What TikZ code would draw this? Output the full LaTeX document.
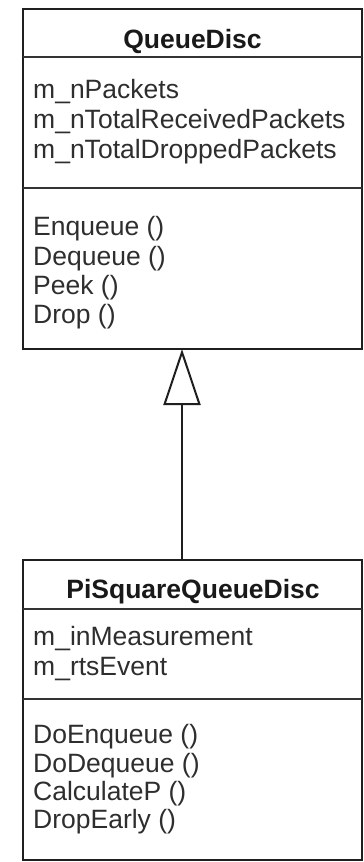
\documentclass[tikz,border=0pt]{standalone}
\usepackage{fontspec}
\setmainfont{Liberation Sans}
\usetikzlibrary{arrows.meta}
\begin{document}
\begin{tikzpicture}[x=1pt,y=-1pt,
  frame/.style={draw=black!88,line width=2pt},
  divider/.style={draw=black!80,line width=1.6pt},
  classbox/.style={frame,fill=white,inner sep=0pt,outer sep=0pt},
  title/.style={font=\fontsize{26.5}{30}\selectfont\bfseries,text=black!90,anchor=base,inner sep=0pt},
  member/.style={font=\fontsize{26.5}{30}\selectfont,text=black!82,anchor=base west,inner sep=0pt}]
\useasboundingbox[fill=white] (0,0) rectangle (364,862);

% base class box
\node[classbox,minimum width=339pt,minimum height=340pt] (base) at (192.5,179) {};
\draw[divider] (base.west |- 0,57) -- (base.east |- 0,57);
\draw[divider] (base.west |- 0,188) -- (base.east |- 0,188);
\node[title] (basetitle) at (192.5,48) {QueueDisc};
\foreach \t [count=\i] in {m\_nPackets,m\_nTotalReceivedPackets,m\_nTotalDroppedPackets}
  \node[member] (baseattr\i) at (33,68+30*\i) {\t};
\foreach \t [count=\i] in {Enqueue (),Dequeue (),Peek (),Drop ()}
  \node[member] (basemeth\i) at (33,206.5+29.3*\i) {\t};

% derived class box
\node[classbox,minimum width=339pt,minimum height=300pt] (derived) at (192.5,710) {};
\draw[divider] (derived.west |- 0,609) -- (derived.east |- 0,609);
\draw[divider] (derived.west |- 0,699) -- (derived.east |- 0,699);
\node[title] (derivedtitle) at (193,598) {PiSquareQueueDisc};
\foreach \t [count=\i] in {m\_inMeasurement,m\_rtsEvent}
  \node[member] (derivedattr\i) at (33,615+30*\i) {\t};
\foreach \t [count=\i] in {DoEnqueue (),DoDequeue (),CalculateP (),DropEarly ()}
  \node[member] (derivedmeth\i) at (33,715.5+28.3*\i) {\t};

% generalization
\draw[black!88,line width=2pt,-{Triangle[open,length=56pt,width=37pt,line width=2pt]}]
  (derived.north -| 182,0) -- (base.south -| 182,0);
\end{tikzpicture}
\end{document}
